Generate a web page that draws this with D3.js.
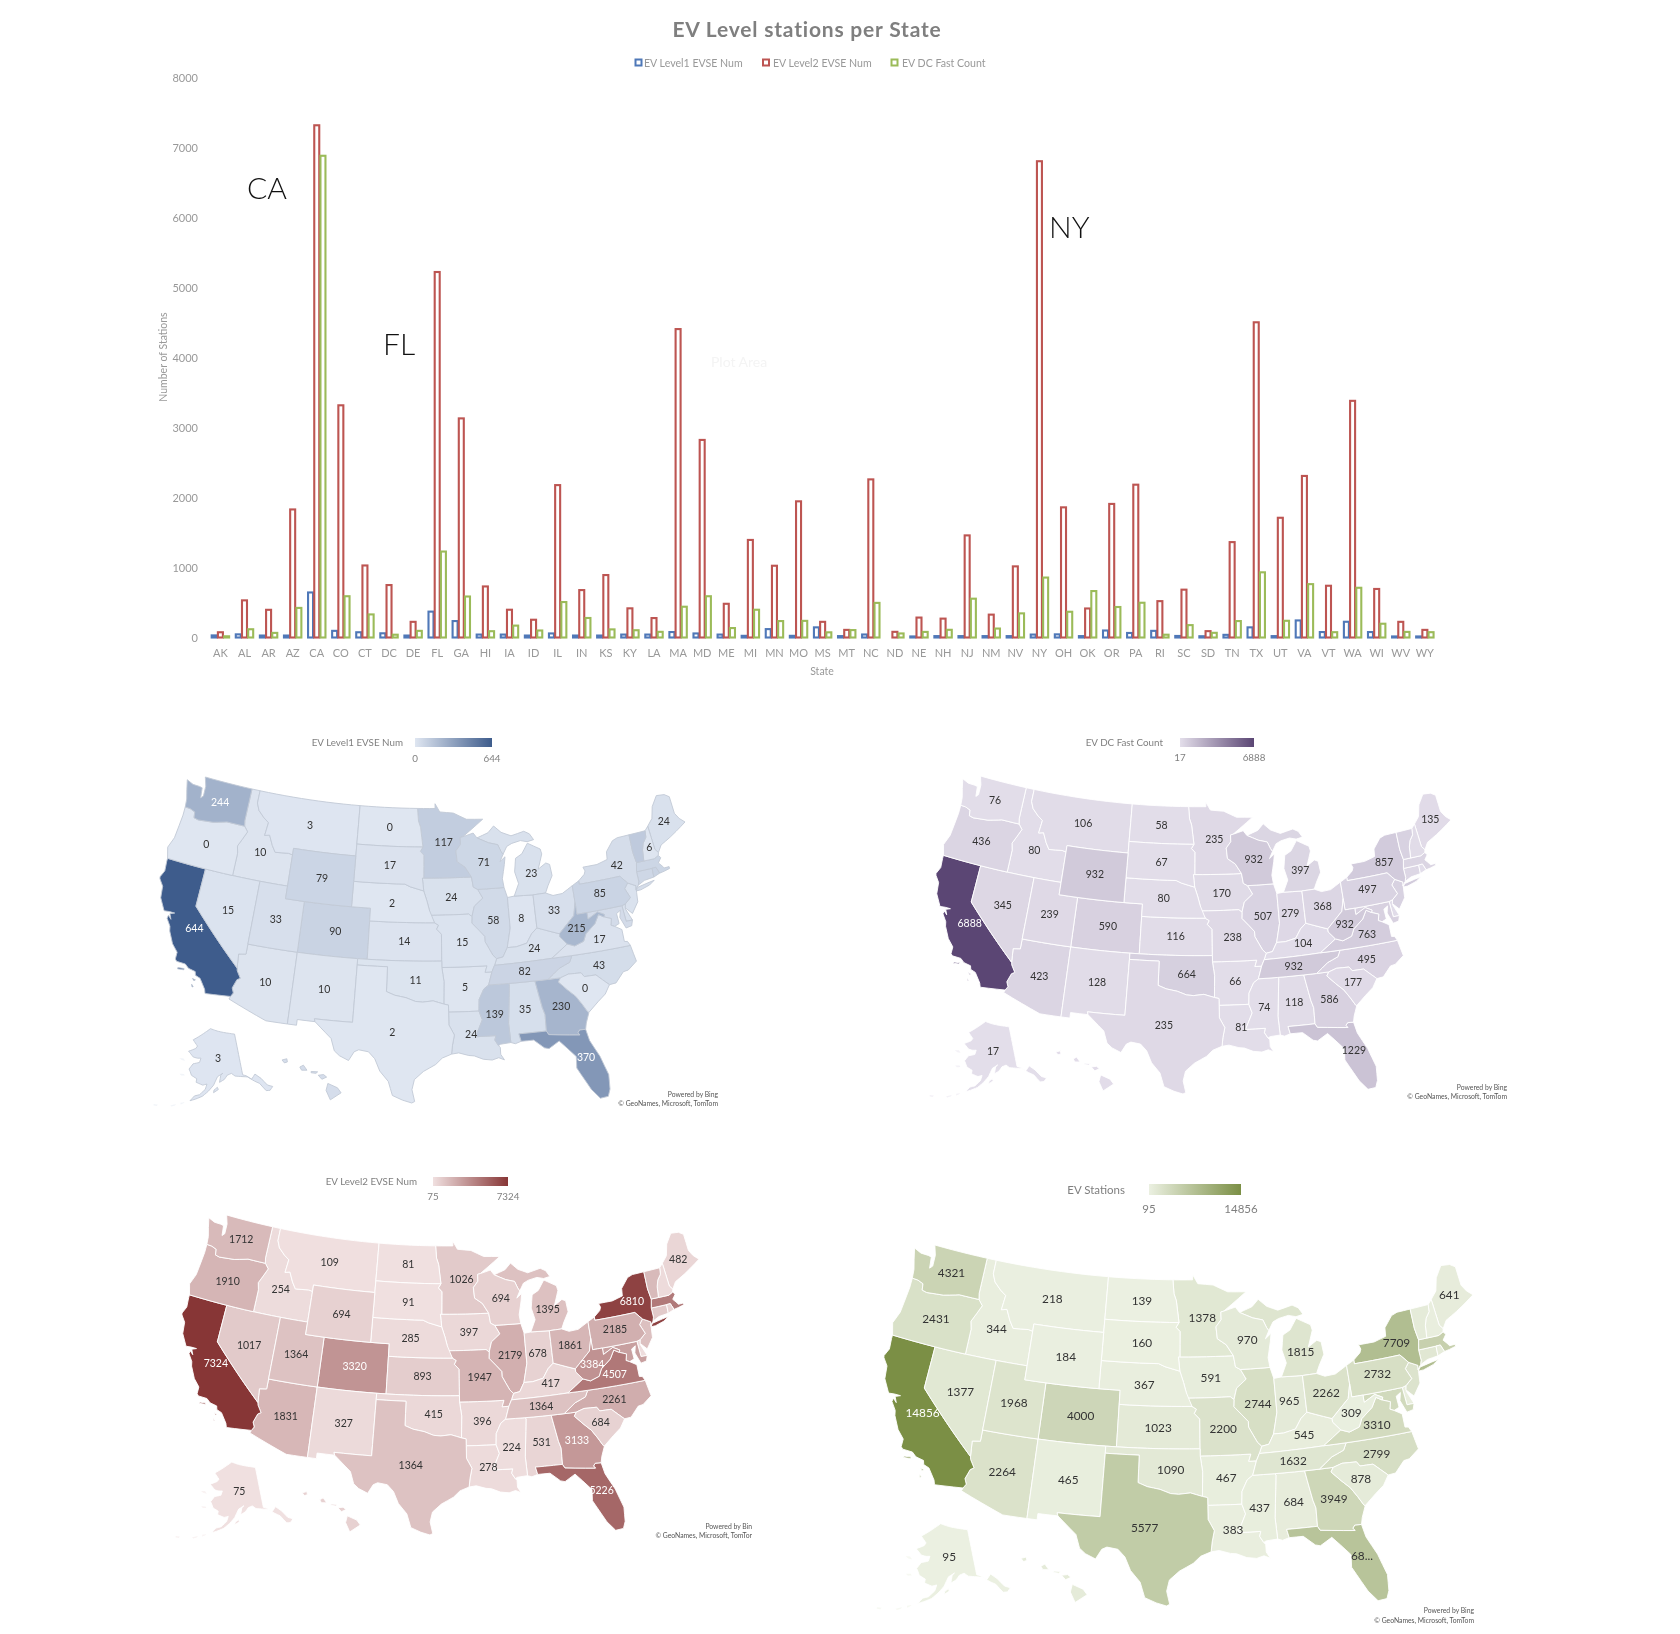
<!DOCTYPE html>
<html>
<head>
<meta charset="utf-8">
<script src="https://cdn.jsdelivr.net/npm/d3@7"></script>
<style>
  body { margin: 0; background: #fff; }
  text { font-family: Lato, "Open Sans", sans-serif; }
</style>
</head>
<body>
<svg id="chart" width="1680" height="1634"></svg>
<script>
// Categories
var states = ["AK","AL","AR","AZ","CA","CO","CT","DC","DE","FL","GA","HI","IA","ID","IL","IN","KS","KY","LA","MA","MD","ME","MI","MN","MO","MS","MT","NC","ND","NE","NH","NJ","NM","NV","NY","OH","OK","OR","PA","RI","SC","SD","TN","TX","UT","VA","VT","WA","WI","WV","WY"];
var yTicks = [0,1000,2000,3000,4000,5000,6000,7000,8000];

// Bar chart series, same order as states
var level1 = [30,45,28,28,644,95,75,60,28,370,235,42,42,28,58,28,28,42,42,78,58,42,24,120,24,145,20,43,0,15,20,20,20,20,42,45,20,100,65,95,22,18,38,145,20,244,78,225,78,15,15];
var level2 = [75,531,396,1831,7324,3320,1030,750,224,5226,3133,730,397,254,2179,678,893,417,278,4410,2825,482,1395,1026,1947,224,109,2261,81,285,270,1460,327,1017,6810,1861,415,1910,2185,520,684,91,1364,4507,1712,2310,740,3384,694,224,109];
var dcFast = [17,118,66,423,6888,590,330,40,95,1229,586,90,170,100,507,279,116,104,81,440,590,135,397,235,238,74,106,495,58,80,110,555,128,345,857,368,664,436,497,40,177,67,235,932,239,763,76,711,197,80,76];

// Values the maps show, same order as states (they do not always agree with the bars)
var mapLevel1 = [3,35,5,10,644,90,70,60,25,370,230,40,24,10,58,8,14,24,24,75,50,24,23,117,15,139,3,43,0,2,6,20,10,15,42,33,11,0,85,90,0,17,82,2,33,17,130,244,71,215,79];
var mapDcFast = [17,118,66,423,6888,590,330,40,95,1229,586,90,170,80,507,279,116,104,81,440,590,135,397,235,238,74,106,495,58,80,110,555,128,345,857,368,664,436,497,45,177,67,932,235,239,763,550,76,932,932,932];
var mapLevel2 = [75,531,396,1831,7324,3320,1030,750,224,5226,3133,730,397,254,2179,678,893,417,278,4410,2825,482,1395,1026,1947,224,109,2261,81,285,270,1460,327,1017,6810,1861,415,1910,2185,525,684,91,1364,1364,1364,4507,1700,1712,694,3384,694];
var mapTotal = [95,684,467,2264,14856,4000,1400,850,340,6825,3949,860,591,344,2744,965,1023,545,383,4900,3460,641,1815,1378,2200,437,218,2799,139,367,390,2030,465,1377,7709,2262,1090,2431,2732,660,878,160,1632,5577,1968,3310,870,4321,970,309,184];

// States with no number printed on the maps
var noLabel = ["CT","DC","DE","HI","MA","MD","NJ","RI","VT"];
var noLabelSmall = ["NH"];

// Where the number sits on each state [lon, lat]
var labelPoints = {AK:[-152,64.5],AL:[-86.8,32.9],AR:[-92.4,34.9],AZ:[-111.7,34.3],CA:[-119.6,37.3],CO:[-105.5,39],FL:[-81.8,28.5],GA:[-83.4,32.8],IA:[-93.5,42],ID:[-114.6,44.2],IL:[-89.2,40],IN:[-86.3,40],KS:[-98.4,38.5],KY:[-85.3,37.5],LA:[-92,31.2],ME:[-69.2,45.3],MI:[-84.7,43.4],MN:[-94.2,46.3],MO:[-92.5,38.4],MS:[-89.7,32.7],MT:[-109.6,47],NC:[-79.2,35.5],ND:[-100.4,47.4],NE:[-99.8,41.5],NH:[-71.5,43.7],NM:[-106,34.4],NV:[-116.7,39.3],NY:[-75.4,42.9],OH:[-82.8,40.3],OK:[-97.2,35.5],OR:[-120.6,43.9],PA:[-77.8,41],SC:[-80.9,33.9],SD:[-100.2,44.4],TN:[-86.5,35.8],TX:[-99.3,31.4],UT:[-111.7,39.3],VA:[-78.7,37.5],WA:[-120.3,47.4],WI:[-89.8,44.6],WV:[-80.8,38.6],WY:[-107.5,43]};

// Simplified state outlines, "lon,lat" rings
var stateShapes = {
  WA:["-124.7,48.38 -123.9,48.16 -123.1,48.15 -122.75,48.1 -122.6,47.3 -122.35,47.5 -122.4,48.3 -122.75,49 -117.03,49 -117.04,46.42 -116.92,45.99 -118.98,46 -119.3,45.93 -120.5,45.7 -121.2,45.65 -122.2,45.57 -122.7,45.65 -122.8,46.1 -123.4,46.25 -124,46.27 -124.1,46.9 -124.4,47.6"],
  OR:["-124,46.27 -123.4,46.25 -122.8,46.1 -122.7,45.65 -122.2,45.57 -121.2,45.65 -120.5,45.7 -119.3,45.93 -118.98,46 -116.92,45.99 -116.46,45.6 -116.85,44.95 -117.22,44.35 -117.03,43.8 -117.03,42 -120,42 -124.21,42 -124.55,42.84 -124.15,43.7 -124.05,44.7 -123.97,45.6"],
  CA:["-124.21,42 -120,42 -120,39 -114.63,35 -114.57,34.8 -114.14,34.26 -114.43,34.1 -114.72,33.4 -114.52,33.03 -114.72,32.72 -117.12,32.53 -117.25,32.85 -117.9,33.6 -118.4,33.75 -118.5,34.03 -119.2,34.15 -119.6,34.42 -120.47,34.45 -120.65,34.6 -120.65,35.15 -121.3,35.7 -121.9,36.6 -122,36.95 -122.5,37.5 -122.45,37.75 -122.1,37.5 -122.35,37.9 -121.9,38.05 -122.45,38.05 -123,38 -123.7,38.9 -123.85,39.8 -124.35,40.3 -124.4,40.44 -124.1,41 -124.2,41.75",
      "-120.2,34 -119.6,34.05 -119.6,33.95 -120.2,33.9","-118.6,33.45 -118.3,33.4 -118.4,33.3","-118.55,33 -118.35,32.85 -118.45,32.8"],
  NV:["-120,42 -117.03,42 -114.04,42 -114.04,37 -114.04,36.2 -114.75,36.1 -114.63,35 -120,39"],
  ID:["-117.04,46.42 -117.03,49 -116.05,49 -116.05,48 -115.7,47.45 -114.95,46.95 -114.35,46.65 -114.5,45.6 -113.95,45.7 -113.45,44.95 -113,44.45 -111.5,44.55 -111.05,44.48 -111.05,42 -114.04,42 -117.03,42 -117.03,43.8 -117.22,44.35 -116.85,44.95 -116.46,45.6 -116.92,45.99"],
  MT:["-116.05,49 -104.05,49 -104.05,45.94 -104.05,45 -111.05,45 -111.05,44.48 -111.5,44.55 -113,44.45 -113.45,44.95 -113.95,45.7 -114.5,45.6 -114.35,46.65 -114.95,46.95 -115.7,47.45 -116.05,48"],
  WY:["-111.05,45 -104.05,45 -104.05,43 -104.05,41 -111.05,41"],
  UT:["-114.04,42 -111.05,42 -111.05,41 -109.05,41 -109.05,37 -114.04,37"],
  CO:["-109.05,41 -104.05,41 -102.05,41 -102.05,40 -102.05,37 -103,37 -109.05,37"],
  AZ:["-114.04,37 -109.05,37 -109.05,31.33 -111.07,31.33 -114.81,32.5 -114.72,32.72 -114.52,33.03 -114.72,33.4 -114.43,34.1 -114.14,34.26 -114.57,34.8 -114.63,35 -114.75,36.1 -114.04,36.2"],
  NM:["-109.05,37 -103,37 -103,36.5 -103.04,32 -106.62,32 -106.53,31.78 -108.2,31.78 -108.2,31.33 -109.05,31.33"],
  ND:["-104.05,49 -97.23,49 -97.1,48 -96.85,47.5 -96.56,45.94 -104.05,45.94"],
  SD:["-104.05,45.94 -96.56,45.94 -96.85,45.6 -96.45,45.3 -96.45,43.5 -96.6,43.5 -96.45,42.49 -97.9,42.8 -98.5,43 -104.05,43 -104.05,45"],
  NE:["-104.05,43 -98.5,43 -97.9,42.8 -96.45,42.49 -96.1,41.7 -95.85,41 -95.31,40 -102.05,40 -102.05,41 -104.05,41"],
  KS:["-102.05,40 -95.31,40 -94.9,39.8 -95.1,39.5 -94.61,39.1 -94.62,37 -102.05,37"],
  OK:["-103,37 -102.05,37 -94.62,37 -94.62,36.5 -94.43,35.4 -94.48,33.64 -95.5,33.9 -96.5,33.8 -97.2,33.85 -98.1,34.13 -99.2,34.3 -100,34.56 -100,36.5 -103,36.5"],
  TX:["-103,36.5 -100,36.5 -100,34.56 -99.2,34.3 -98.1,34.13 -97.2,33.85 -96.5,33.8 -95.5,33.9 -94.48,33.64 -94.04,33.55 -94.04,33 -94.04,32 -93.55,31.2 -93.75,30.4 -93.85,29.7 -94.7,29.4 -95.3,28.9 -96.4,28.35 -97.2,27.7 -97.4,26.9 -97.15,25.96 -97.4,25.84 -98.2,26.05 -99.1,26.4 -99.5,27.5 -100.3,28.3 -100.8,29.25 -101.4,29.77 -102.3,29.88 -102.7,29.7 -103.15,28.98 -104,29.3 -104.5,29.65 -104.9,30.6 -106,31.4 -106.53,31.78 -106.62,32 -103.04,32"],
  MN:["-97.23,49 -95.15,49 -95.15,49.38 -94.6,48.72 -93,48.6 -91.5,48.07 -89.6,48 -92,46.7 -92.3,46.65 -92.3,46.1 -92.85,45.6 -92.75,44.75 -91.9,44.3 -91.25,43.5 -96.45,43.5 -96.45,45.3 -96.85,45.6 -96.56,45.94 -96.85,47.5 -97.1,48"],
  IA:["-96.45,43.5 -91.25,43.5 -91.1,42.7 -90.64,42.5 -90.15,41.8 -91.1,41.2 -91.4,40.4 -91.73,40.61 -95.77,40.58 -95.85,41 -96.1,41.7 -96.45,42.49 -96.6,43.5"],
  MO:["-95.77,40.58 -91.73,40.61 -91.4,40.4 -91.45,39.9 -90.75,39.3 -90.2,38.8 -90.2,38.4 -89.5,37.3 -89.15,37 -89.4,36.5 -89.7,36 -90.37,36 -90.15,36.5 -94.62,36.5 -94.62,37 -94.61,39.1 -95.1,39.5 -94.9,39.8 -95.31,40"],
  AR:["-94.62,36.5 -90.15,36.5 -90.37,36 -89.7,36 -90.1,35 -90.6,34.7 -91.1,33.9 -91.17,33 -94.04,33 -94.04,33.55 -94.48,33.64 -94.43,35.4"],
  LA:["-94.04,33 -91.17,33 -90.9,32.3 -91.6,31 -89.73,31 -89.85,30.65 -89.55,30.2 -89.4,30.05 -89.4,29.5 -89.1,29.05 -89.6,29.25 -90.2,29.1 -91,29.2 -91.8,29.5 -92.3,29.55 -93.2,29.78 -93.85,29.7 -93.75,30.4 -93.55,31.2 -94.04,32"],
  MS:["-91.17,33 -91.1,33.9 -90.6,34.7 -90.1,35 -88.2,35 -88.1,34.9 -88.47,31.9 -88.4,30.37 -89.35,30.3 -89.55,30.2 -89.85,30.65 -89.73,31 -91.6,31 -90.9,32.3"],
  AL:["-88.2,35 -85.6,35 -85.18,32.87 -85,32.3 -85.05,31 -87.6,31 -87.45,30.4 -88,30.25 -88.4,30.37 -88.47,31.9 -88.1,34.9"],
  GA:["-85.6,35 -84.32,35 -83.1,35 -83.35,34.7 -82.6,34 -81.9,33.4 -81.4,32.7 -81,32.05 -80.9,32 -81.3,31.2 -81.45,30.72 -82,30.75 -82.2,30.55 -82.05,30.36 -84.86,30.7 -85.05,31 -85,32.3 -85.18,32.87"],
  FL:["-87.6,31 -85.05,31 -84.86,30.7 -82.05,30.36 -82.2,30.55 -82,30.75 -81.45,30.72 -81.25,29.8 -80.55,28.45 -80.05,26.9 -80.15,25.75 -80.4,25.2 -81.1,25.15 -81.75,25.95 -82.15,26.7 -82.75,27.8 -82.65,28.7 -83.4,29.5 -84,30.1 -85,29.6 -85.4,29.7 -86.3,30.4 -87.45,30.4"],
  SC:["-83.35,34.7 -83.1,35 -82.3,35.2 -81.05,35.15 -80.8,34.82 -79.67,34.8 -78.55,33.86 -79.1,33.2 -79.9,32.7 -80.9,32 -81,32.05 -81.4,32.7 -81.9,33.4 -82.6,34"],
  NC:["-84.32,35 -83.1,35 -82.3,35.2 -81.05,35.15 -80.8,34.82 -79.67,34.8 -78.55,33.86 -77.9,33.9 -77,34.65 -76.5,34.7 -75.55,35.25 -75.8,36.55 -81.68,36.59 -82,36.1 -83.1,35.75"],
  VA:["-75.8,36.55 -81.68,36.59 -83.68,36.6 -81.97,37.54 -81.25,37.3 -80.3,37.55 -79.95,38.1 -78.87,38.75 -78.35,39.4 -77.83,39.14 -77.12,38.9 -77.3,38.4 -76.95,38.25 -76.3,37.9 -76.3,36.95 -76,36.9"],
  WV:["-81.97,37.54 -82.6,38.17 -82.6,38.42 -81.8,39 -80.87,39.65 -80.52,40.64 -80.52,39.72 -79.48,39.72 -79.48,39.2 -78.4,39.62 -77.73,39.32 -77.83,39.14 -78.35,39.4 -78.87,38.75 -79.95,38.1 -80.3,37.55 -81.25,37.3"],
  KY:["-89.4,36.5 -83.68,36.6 -81.97,37.54 -82.6,38.17 -82.6,38.42 -84.8,39.1 -85.4,38.7 -86,38 -87.1,37.8 -88,37.8 -88.5,37.1 -89.15,37"],
  TN:["-90.1,35 -89.7,36 -89.4,36.5 -83.68,36.6 -81.68,36.59 -82,36.1 -83.1,35.75 -84.32,35 -85.6,35 -88.2,35"],
  OH:["-84.8,39.1 -82.6,38.42 -81.8,39 -80.87,39.65 -80.52,40.64 -80.52,41.98 -81.7,41.5 -82.7,41.45 -83.45,41.72 -84.8,41.7"],
  IN:["-87.53,41.7 -86.8,41.76 -84.8,41.7 -84.8,39.1 -85.4,38.7 -86,38 -87.1,37.8 -88,37.8 -87.53,39.3"],
  IL:["-90.64,42.5 -87.8,42.5 -87.53,41.7 -87.53,39.3 -88,37.8 -88.5,37.1 -89.15,37 -89.5,37.3 -90.2,38.4 -90.2,38.8 -90.75,39.3 -91.45,39.9 -91.4,40.4 -91.1,41.2 -90.15,41.8"],
  WI:["-92,46.7 -90.8,46.95 -90.4,46.55 -89.1,46.1 -88.1,45.9 -87.8,45.35 -87.6,45.1 -88,44.55 -87.4,44.9 -87.55,44.3 -87.9,43.2 -87.8,42.5 -90.64,42.5 -91.1,42.7 -91.25,43.5 -91.9,44.3 -92.75,44.75 -92.85,45.6 -92.3,46.1 -92.3,46.65"],
  MI:["-86.8,41.76 -84.8,41.7 -83.45,41.72 -83.1,42.25 -82.5,43 -82.6,43.9 -83,44.05 -83.9,43.65 -83.3,44.8 -83.4,45.2 -84.75,45.78 -85.5,45 -86.25,44.7 -86.5,43.65 -86.2,42.7",
      "-90.4,46.55 -89.1,46.9 -88.4,47.4 -87.6,46.85 -86.5,46.5 -85,46.75 -84.4,46.5 -84,46 -84.75,45.9 -85.5,46.05 -86.5,45.9 -87.1,45.7 -87.6,45.1 -87.8,45.35 -88.1,45.9 -89.1,46.1"],
  PA:["-80.52,41.98 -79.76,42.27 -79.76,42 -75.35,42 -74.7,41.36 -75.13,40.97 -74.75,40.2 -75.4,39.8 -75.79,39.72 -79.48,39.72 -80.52,39.72 -80.52,40.64"],
  NY:["-79.76,42.27 -79.05,42.7 -78.9,42.95 -79.05,43.27 -77.5,43.27 -76.3,43.5 -76.2,44.1 -75.3,44.85 -74.7,45 -73.35,45.01 -73.4,43.6 -73.27,42.75 -73.5,42.05 -73.5,41.3 -73.65,41 -73.9,40.8 -74,40.7 -73.9,41 -74.7,41.36 -75.35,42 -79.76,42",
      "-74,40.6 -73.75,40.85 -72.6,41 -71.9,41.07 -72.5,40.8 -73.5,40.6"],
  NJ:["-74.7,41.36 -73.9,41 -74,40.45 -74.1,39.75 -74.9,38.95 -75.5,39.5 -75.4,39.8 -74.75,40.2 -75.13,40.97"],
  DE:["-75.79,39.72 -75.4,39.8 -75.5,39.4 -75.05,38.45 -75.7,38.46"],
  MD:["-79.48,39.72 -75.79,39.72 -75.7,38.46 -75.05,38.45 -75.25,38.03 -75.85,37.95 -76.25,38.85 -76.05,39.4 -76.5,39.2 -76.45,38.4 -76.95,38.25 -77.3,38.4 -77.12,38.9 -77.83,39.14 -77.73,39.32 -78.4,39.62 -79.48,39.2"],
  DC:["-77.12,38.93 -77.04,39 -76.91,38.9 -77.04,38.79"],
  CT:["-73.5,42.05 -71.8,42.02 -71.85,41.32 -72.9,41.25 -73.65,41 -73.5,41.3"],
  RI:["-71.8,42.02 -71.38,42.02 -71.15,41.5 -71.85,41.32"],
  MA:["-73.5,42.05 -73.27,42.75 -72.46,42.73 -71.3,42.7 -70.8,42.87 -70.6,42.65 -71,42.3 -70.65,41.95 -70.55,41.8 -70,41.8 -70,41.65 -70.65,41.55 -71.15,41.5 -71.38,42.02 -71.8,42.02"],
  VT:["-73.35,45.01 -71.5,45.01 -71.6,44.5 -72.05,44.1 -72.3,43.6 -72.46,42.73 -73.27,42.75 -73.4,43.6"],
  NH:["-71.5,45.01 -71.08,45.3 -70.98,43.4 -70.7,43.08 -70.8,42.87 -71.3,42.7 -72.46,42.73 -72.3,43.6 -72.05,44.1 -71.6,44.5"],
  ME:["-71.08,45.3 -70.4,45.8 -70,46.7 -69.2,47.45 -68.3,47.35 -67.8,47.07 -67.8,45.7 -67.45,45.2 -66.95,44.8 -68.2,44.3 -69,44 -70.2,43.6 -70.7,43.08 -70.98,43.4"],
  AK:["-141,69.65 -141,60.3 -139.5,59.9 -137.5,58.9 -135.5,59.8 -133.5,58.5 -131.8,56.6 -130,55.9 -131.5,55.3 -133,55.5 -134.7,57.5 -136.5,58.3 -139,59.6 -142,60 -144.5,60.3 -146,61 -148,60.7 -149.5,59.8 -151.7,59.2 -151,60.8 -150,61.2 -152.5,60.5 -153.5,59.5 -154.3,58.6 -156.5,57.2 -158.8,56 -161.5,55.2 -163.5,54.7 -162,55.9 -160,56.3 -157.8,57.6 -157.2,58.8 -159,58.5 -162,59 -161.9,59.8 -164.5,60.4 -165.4,61.2 -166.1,61.7 -164.6,63 -161.5,63.5 -161,64.5 -162.8,64.4 -165,64.5 -166.9,65.2 -168.1,65.6 -164.5,66.5 -163.7,67.1 -166.8,68.35 -163,69.5 -160,70.4 -156.6,71.35 -152,70.8 -148,70.4 -144,70",
      "-154.3,56.9 -152.3,57.6 -152.7,58.1 -154.1,57.5"],
  HI:["-155.9,20.25 -155.1,19.9 -154.8,19.5 -155.7,18.95 -156.05,19.7","-156.7,20.9 -156.25,20.95 -156,20.75 -156.4,20.58","-158.25,21.55 -157.95,21.7 -157.65,21.3 -158.1,21.3","-159.75,22.1 -159.35,22.2 -159.3,21.95 -159.55,21.87","-157.3,21.2 -156.75,21.17 -156.9,21.05 -157.3,21.1"]
};
// Aleutians and Bering islands, they fade out almost completely in the picture
var faintIslands = ["-170,60.2 -168,60.4 -167.5,60.1 -169,59.9","-172,63.6 -170,63.8 -168.8,63.3 -170.5,63.3","-167,53.9 -165.5,54.2 -165.8,53.9 -166.8,53.5","-170.5,52.8 -168.5,53.4 -168.8,53 -170,52.6","-176.5,52 -175,52.2 -175.2,51.8 -176.4,51.7"];

var root = d3.select("#chart");
root.append("rect").attr("width", 1680).attr("height", 1634).attr("fill", "#fff");
// the picture is a soft screenshot, only the typed CA / FL / NY notes are sharp
var svg = root.append("g").style("filter", "blur(0.45px)");

// ---- Bar chart ----
var seriesNames = ["EV Level1 EVSE Num","EV Level2 EVSE Num","EV DC Fast Count"];
var seriesValues = [level1, level2, dcFast];
var seriesColors = ["#4f78b8","#bd5552","#9bbb59"];

var x0 = d3.scaleBand().domain(states).range([208.35, 1436.9]);
var x1 = d3.scaleBand().domain(d3.range(3)).range([0, 18.6]);
var y = d3.scaleLinear().domain([0, 8000]).range([637.5, 78]);

svg.append("text").text("EV Level stations per State")
  .attr("x", 807).attr("y", 37).attr("text-anchor", "middle")
  .attr("font-size", 21).attr("font-weight", 700).attr("letter-spacing", 0.8).attr("fill", "#7f7f7f");

// legend
var legendX = [[635.5, 644], [763, 773], [891.5, 902]];
seriesNames.forEach(function(name, i) {
  svg.append("rect").attr("x", legendX[i][0]).attr("y", 59.5).attr("width", 6).attr("height", 6)
    .attr("fill", "#fff").attr("stroke", seriesColors[i]).attr("stroke-width", 2);
  svg.append("text").text(name).attr("x", legendX[i][1]).attr("y", 67)
    .attr("font-size", 10.6).attr("fill", "#999");
});

// faint leftover tooltip in the plot area
svg.append("text").text("Plot Area").attr("x", 711).attr("y", 367)
  .attr("font-size", 14).attr("fill", "#f4f4f4");

var bars = svg.append("g");
seriesValues.forEach(function(values, i) {
  bars.append("g").selectAll("rect").data(values).join("rect")
    .attr("x", function(d, j) { return x0(states[j]) + 2.75 + x1(i) + 0.6; })
    .attr("y", function(d) { return y(d); })
    .attr("width", x1.bandwidth() - 1.2)
    .attr("height", function(d) { return y(0) - y(d); })
    .attr("fill", "#fff")
    .attr("stroke", seriesColors[i])
    .attr("stroke-width", 2.1);
});

var yAxis = svg.append("g").attr("transform", "translate(204,0)")
  .call(d3.axisLeft(y).tickValues(yTicks).tickSize(0).tickFormat(d3.format("d")));
yAxis.select(".domain").remove();
yAxis.selectAll("text").attr("font-size", 11).attr("fill", "#999").attr("x", -6).attr("font-family", "Lato");

var xAxis = svg.append("g").attr("transform", "translate(0,646)")
  .call(d3.axisBottom(x0).tickSize(0));
xAxis.select(".domain").remove();
xAxis.selectAll("text").attr("font-size", 11).attr("fill", "#999").attr("font-family", "Lato");

svg.append("text").text("State").attr("x", 822).attr("y", 675).attr("text-anchor", "middle")
  .attr("font-size", 10.5).attr("fill", "#999");
svg.append("text").text("Number of Stations")
  .attr("transform", "translate(167,357) rotate(-90)").attr("text-anchor", "middle")
  .attr("font-size", 10.5).attr("fill", "#999");

// typed notes beside the tallest bars
[["CA", 247, 199], ["FL", 383, 355], ["NY", 1049, 238]].forEach(function(n) {
  root.append("text").text(n[0]).attr("x", n[1]).attr("y", n[2])
    .attr("font-size", 30).attr("font-weight", 300).attr("fill", "#111");
});

// ---- Projections, all at unit scale; each map places them with its own scales ----
var lower48 = d3.geoAlbers().scale(1).translate([0, 0]);
var alaska = d3.geoConicEqualArea().rotate([154, 0]).center([-2, 58.5]).parallels([55, 65]).scale(0.35).translate([-0.292, 0.201]);
var hawaii = d3.geoConicEqualArea().rotate([157, 0]).center([-3, 19.9]).parallels([8, 18]).scale(1).translate([-0.197, 0.204]);

function unitPoint(state, pt) {
  if (state == "AK") return alaska(pt);
  if (state == "HI") return hawaii(pt);
  return lower48(pt);
}

function parseRing(ring) {
  return ring.split(" ").map(function(p) { return p.split(",").map(Number); });
}

// long straight borders follow the conic curve, so cut them into 1 degree pieces
function densify(ring) {
  var out = [];
  ring.forEach(function(a, i) {
    var b = ring[(i + 1) % ring.length];
    var n = Math.ceil(Math.max(Math.abs(a[0] - b[0]), Math.abs(a[1] - b[1])));
    for (var k = 0; k < Math.max(n, 1); k++) {
      out.push([a[0] + (b[0] - a[0]) * k / Math.max(n, 1), a[1] + (b[1] - a[1]) * k / Math.max(n, 1)]);
    }
  });
  return out;
}

var leftX = lower48([-124.4, 40.44])[0], rightX = lower48([-66.95, 44.8])[0];
var topY = lower48([-122.75, 49])[1], bottomY = lower48([-97.4, 25.84])[1];

function drawMap(m) {
  var px = d3.scaleLinear().domain([leftX, rightX]).range([m.left, m.right]);
  var py = d3.scaleLinear().domain([topY, bottomY]).range([m.top, m.bottom]);
  var color = d3.scaleLinear().domain(d3.extent(m.values)).range(m.colors);
  var line = d3.line();
  var g = svg.append("g");

  function ringPath(state, r) {
    return line(densify(parseRing(r)).map(function(pt) {
      var u = unitPoint(state, pt);
      return [px(u[0]), py(u[1])];
    })) + "Z";
  }

  g.append("path")
    .attr("d", faintIslands.map(function(r) { return ringPath("AK", r); }).join(""))
    .attr("fill", m.colors[0]).attr("opacity", 0.4);

  states.forEach(function(s, i) {
    g.append("path")
      .attr("d", stateShapes[s].map(function(r) { return ringPath(s, r); }).join(""))
      .attr("fill", color(m.values[i]))
      .attr("stroke", m.border)
      .attr("stroke-width", 0.9)
      .attr("stroke-linejoin", "round");
  });

  states.forEach(function(s, i) {
    if (noLabel.indexOf(s) >= 0 || (m.skip && m.skip.indexOf(s) >= 0) || !labelPoints[s]) return;
    var u = unitPoint(s, labelPoints[s]);
    g.append("text")
      .text(m.shortLabel && m.shortLabel[s] ? m.shortLabel[s] : m.values[i])
      .attr("x", px(u[0])).attr("y", py(u[1])).attr("dy", "0.35em")
      .attr("text-anchor", "middle")
      .attr("font-size", m.fontSize)
      .attr("fill", m.values[i] > m.whiteAbove ? "#fff" : "#333");
  });

  // colour legend
  var gradId = "grad" + m.id;
  var grad = svg.append("defs").append("linearGradient").attr("id", gradId);
  grad.append("stop").attr("offset", "0%").attr("stop-color", m.colors[0]);
  grad.append("stop").attr("offset", "100%").attr("stop-color", m.colors[1]);
  var lg = m.legend;
  svg.append("rect").attr("x", lg.x0).attr("y", lg.y).attr("width", lg.x1 - lg.x0).attr("height", lg.h).attr("fill", "url(#" + gradId + ")");
  svg.append("text").text(m.name).attr("x", lg.labelX).attr("y", lg.y + lg.h / 2).attr("dy", "0.35em")
    .attr("text-anchor", "end").attr("font-size", lg.fs).attr("fill", "#7f7f7f");
  svg.append("g").selectAll("text").data(d3.extent(m.values)).join("text")
    .text(function(d) { return d; })
    .attr("x", function(d, i) { return i ? lg.x1 : lg.x0; })
    .attr("y", lg.tickY).attr("dy", "0.35em")
    .attr("text-anchor", "middle").attr("font-size", lg.fs).attr("fill", "#7f7f7f");

  // attribution
  m.credit.forEach(function(t, i) {
    svg.append("text").text(t).attr("x", m.creditX).attr("y", m.creditY + i * m.creditGap)
      .attr("text-anchor", "end").attr("font-size", 6.8).attr("fill", "#555");
  });
}

var credit = ["Powered by Bing", "\u00a9 GeoNames, Microsoft, TomTom"];

drawMap({ id: 1, name: "EV Level1 EVSE Num", values: mapLevel1, colors: ["#dfe6f1", "#3e5c8c"], border: "#c2cad6",
  left: 160, right: 685, top: 777, bottom: 1103, fontSize: 10.5, whiteAbove: 240,
  legend: { x0: 415, x1: 492, y: 738, h: 9, labelX: 403, tickY: 759, fs: 9.8 },
  credit: credit, creditX: 718, creditY: 1097, creditGap: 9 });

drawMap({ id: 2, name: "EV DC Fast Count", values: mapDcFast, colors: ["#e3deea", "#5b4674"], border: "#fff",
  left: 936, right: 1451, top: 776, bottom: 1094, fontSize: 10.5, whiteAbove: 3000, skip: noLabelSmall,
  legend: { x0: 1180, x1: 1254, y: 738, h: 9, labelX: 1163, tickY: 758, fs: 9.8 },
  credit: credit, creditX: 1507, creditY: 1090, creditGap: 8.5 });

drawMap({ id: 3, name: "EV Level2 EVSE Num", values: mapLevel2, colors: ["#f0e0e0", "#873636"], border: "#fff",
  left: 182, right: 699, top: 1215, bottom: 1535, fontSize: 10.5, whiteAbove: 3000, skip: noLabelSmall,
  legend: { x0: 433, x1: 508, y: 1177, h: 9, labelX: 417, tickY: 1197, fs: 9.8 },
  credit: ["Powered by Bin", "\u00a9 GeoNames, Microsoft, TomTor"], creditX: 752, creditY: 1529, creditGap: 9 });

drawMap({ id: 4, name: "EV Stations", values: mapTotal, colors: ["#ebf0e1", "#7b8f45"], border: "#fff",
  left: 884, right: 1473, top: 1245, bottom: 1606, fontSize: 11.8, whiteAbove: 10000, skip: noLabelSmall, shortLabel: { FL: "68..." },
  legend: { x0: 1149, x1: 1241, y: 1184, h: 11, labelX: 1125, tickY: 1209, fs: 11.5 },
  credit: credit, creditX: 1474, creditY: 1613, creditGap: 10 });
</script>
</body>
</html>
